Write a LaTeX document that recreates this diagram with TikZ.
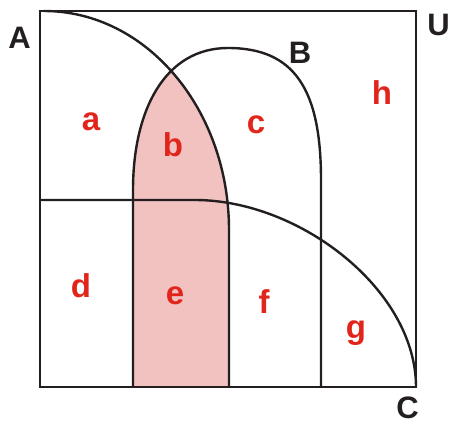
\documentclass[tikz,border=0pt]{standalone}
\usepackage{fontspec}
\setmainfont{Liberation Sans}
\usepackage{tikz}
\usepackage{xcolor}
\definecolor{ink}{HTML}{231F20}
\definecolor{blush}{HTML}{F2C2C0}
\definecolor{tag}{HTML}{E1251B}
\tikzset{frameline/.style={draw=ink,line width=2.7pt}, setline/.style={draw=ink,line width=2.4pt,line join=round}, overlap/.style={fill=blush}, setname/.style={font=\fontsize{31}{31}\selectfont\bfseries,text=ink,inner sep=0pt,anchor=base}, regionname/.style={font=\fontsize{33}{33}\selectfont\bfseries,text=tag,inner sep=0pt,anchor=base}}
\begin{document}
\begin{tikzpicture}[x=1pt,y=-1pt]
\useasboundingbox (0,0) rectangle (449,423);
\coordinate (UTL) at (40,11);\coordinate (UBR) at (416,387);
\coordinate (ATop) at (44,11);\coordinate (AFoot) at (229,387);
\coordinate (BFoot) at (133,387);\coordinate (BLeft) at (133,190);\coordinate (BTop) at (228,48);\coordinate (BRight) at (321,180);\coordinate (BEnd) at (321,387);
\coordinate (CStart) at (40,200);\coordinate (CTop) at (195,200);
\begin{scope}
\clip (40,387) -- (UTL) -- (ATop) arc[start angle=-90,end angle=0,x radius=185,y radius=219] -- (AFoot) -- cycle;
\fill[overlap] (BFoot) -- (BLeft) .. controls (133,110) and (165,48) .. (BTop) .. controls (295,48) and (321,90) .. (BRight) -- (BEnd) -- cycle;
\end{scope}
\draw[setline] (CStart) -- (CTop) .. controls (300,200) and (416,290) .. (UBR);
\draw[setline] (ATop) arc[start angle=-90,end angle=0,x radius=185,y radius=219] -- (AFoot);
\draw[setline] (BFoot) -- (BLeft) .. controls (133,110) and (165,48) .. (BTop) .. controls (295,48) and (321,90) .. (BRight) -- (BEnd);
\draw[frameline] (UTL) rectangle (UBR);
\node[setname] (lblA) at (19.5,48) {A};
\node[setname] (lblB) at (300,63) {B};
\node[setname] (lblU) at (438.5,35) {U};
\node[setname] (lblC) at (407.5,418) {C};
\node[regionname] (ra) at (91,130) {a};
\node[regionname] (rb) at (173,156) {b};
\node[regionname] (rc) at (256,133) {c};
\node[regionname] (rd) at (81,297) {d};
\node[regionname] (re) at (175,304) {e};
\node[regionname] (rf) at (264,313) {f};
\node[regionname] (rg) at (356,338) {g};
\node[regionname] (rh) at (382,104) {h};
\end{tikzpicture}
\end{document}
